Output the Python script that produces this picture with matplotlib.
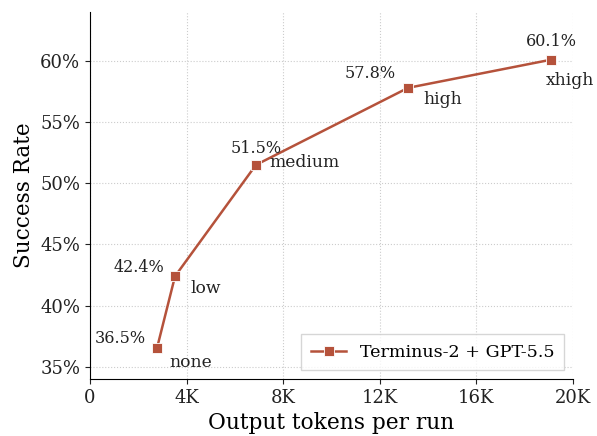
import matplotlib.pyplot as plt
from matplotlib.ticker import FuncFormatter

# data
tokens = [2.77, 3.52, 6.87, 13.17, 19.09]   # thousands of output tokens per run
success = [36.5, 42.4, 51.5, 57.8, 60.1]     # success rate, %
efforts = ["none", "low", "medium", "high", "xhigh"]
series_name = "Terminus-2 + GPT-5.5"

# label placement (points offset, alignment) for value and effort labels
val_offsets = [(-8, 7, "right"), (-8, 6, "right"), (0, 12, "center"), (-9, 10, "right"), (0, 13, "center")]
name_offsets = [(9, -10, "left"), (11, -9, "left"), (10, 1.5, "left"), (11, -8.5, "left"), (-4, -15, "left")]

color = "#b5523b"
plt.rcParams["font.family"] = "DejaVu Serif"

fig = plt.figure(figsize=(5.97, 4.36), dpi=100)
ax = fig.add_axes([0.1508, 0.1307, 0.809, 0.8418])

ax.plot(tokens, success, color=color, marker="s", markersize=7, linewidth=1.8,
        markeredgecolor="white", markeredgewidth=0.6, label=series_name, zorder=3)

for x, y, name, vo, no in zip(tokens, success, efforts, val_offsets, name_offsets):
    ax.annotate(f"{y:.1f}%", (x, y), xytext=(vo[0], vo[1]), textcoords="offset points",
                ha=vo[2], va="center", fontsize=11.5, color="#222222")
    ax.annotate(name, (x, y), xytext=(no[0], no[1]), textcoords="offset points",
                ha=no[2], va="center", fontsize=12.3, color="#222222")

ax.set_xlim(0, 20)
ax.set_ylim(34, 64)
ax.set_xticks([0, 4, 8, 12, 16, 20])
ax.xaxis.set_major_formatter(FuncFormatter(lambda v, p: "0" if v == 0 else f"{int(v)}K"))
ax.set_yticks([35, 40, 45, 50, 55, 60])
ax.yaxis.set_major_formatter(FuncFormatter(lambda v, p: f"{int(v)}%"))
ax.tick_params(labelsize=13, colors="#222222")

ax.set_xlabel("Output tokens per run", fontsize=15.7)
ax.set_ylabel("Success Rate", fontsize=15.5)

ax.grid(True, linestyle=":", color="#cccccc", linewidth=0.8)
ax.spines["top"].set_visible(False)
ax.spines["right"].set_visible(False)

leg = ax.legend(loc="lower right", fontsize=12.6, frameon=True, fancybox=False,
                edgecolor="#cccccc", borderpad=0.55)

fig.savefig("out.png", dpi=100)
